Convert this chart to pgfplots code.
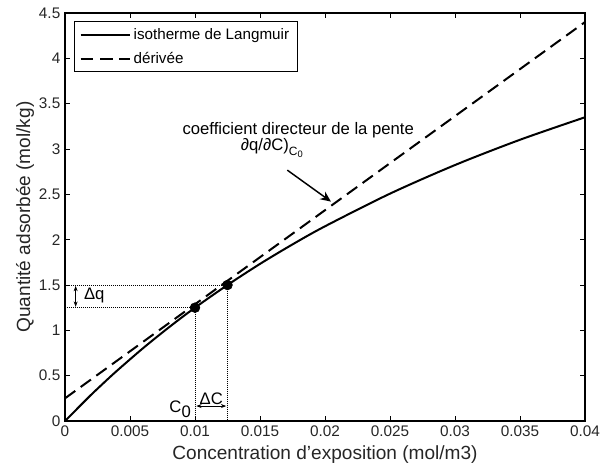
\documentclass[border=0pt]{standalone}
\usepackage{pgfplots}
\pgfplotsset{compat=1.18}
\usepackage{fontspec}
\setmainfont{Liberation Sans}
\usetikzlibrary{arrows.meta}
\begin{document}
\begin{tikzpicture}
\begin{axis}[
  name=main,
  scale only axis,
  width=390pt, height=306pt,
  xmin=0, xmax=0.04, ymin=0, ymax=4.5,
  xtick={0,0.005,...,0.04},
  xticklabels={0,0.005,0.01,0.015,0.02,0.025,0.03,0.035,0.04},
  ytick={0,0.5,...,4.5},
  yticklabels={0,0.5,1,1.5,2,2.5,3,3.5,4,4.5},
  tick align=inside,
  major tick length=4pt,
  tick style={black, line width=0.6pt},
  axis line style={line width=0.8pt},
  /pgf/number format/assume math mode=true,
  ticklabel style={font=\fontsize{11.5}{13}\selectfont, color=black!85},
  xlabel={Concentration d'exposition (mol/m3)},
  ylabel={Quantité adsorbée (mol/kg)},
  label style={font=\fontsize{14.3}{16}\selectfont, color=black!85},
  xlabel style={at={(axis description cs:0.5,-0.0833)}, anchor=center},
  ylabel style={at={(axis description cs:-0.0769,0.5)}, anchor=center},
  scaled x ticks=false,
  legend style={at={(0.0172,0.980)}, anchor=north west, draw=black, line width=0.6pt,
    font=\fontsize{11.4}{13}\selectfont, inner xsep=4pt, inner ysep=3pt, row sep=4pt, legend cell align=left},
  legend image code/.code={\draw[#1] (0cm,0cm) -- (1.3cm,0cm);},
  clip=true,
]
\addplot[black, line width=1.5pt, smooth] coordinates {
(0,0.0) (0.001,0.1444) (0.002,0.2878) (0.003,0.4232) (0.004,0.5546) (0.006,0.8027) (0.008,1.0339)
(0.010,1.2500) (0.0125,1.5000) (0.015,1.7328) (0.0175,1.9477) (0.020,2.1475)
(0.025,2.5076) (0.030,2.8231) (0.035,3.1019) (0.040,3.3501)};
\addlegendentry{isotherme de Langmuir}
\addplot[black, line width=1.5pt, dash pattern=on 9.5pt off 5pt] coordinates {
(0,0.25) (0.04,4.40)};
\addlegendentry{dérivée}
% dotted guides
\addplot[black, densely dotted, line width=0.5pt, forget plot] coordinates {(0,1.25) (0.01,1.25) (0.01,0)};
\addplot[black, densely dotted, line width=0.5pt, forget plot] coordinates {(0,1.5) (0.0125,1.5) (0.0125,0)};
% points
\addplot[only marks, mark=*, mark size=3.7pt, black, forget plot] coordinates {(0.01,1.25) (0.0125,1.5)};
% delta arrows
\addplot[black, line width=0.6pt, {Stealth[length=4pt]}-{Stealth[length=4pt]}, forget plot] coordinates {(0.00082,1.26) (0.00082,1.49)};
\addplot[black, line width=0.6pt, {Stealth[length=4pt]}-{Stealth[length=4pt]}, forget plot] coordinates {(0.0101,0.165) (0.0124,0.165)};
% annotation arrow
\addplot[black, line width=1.1pt, -{Stealth[length=8pt,width=7pt]}, forget plot] coordinates {(0.0171,2.767) (0.02046,2.42)};
\node[anchor=west, font=\fontsize{12.5}{14}\selectfont, inner sep=0pt] at (axis cs:0.00145,1.38) {Δq};
\node[anchor=south, font=\fontsize{12.5}{14}\selectfont, inner sep=0.5pt] at (axis cs:0.01125,0.17) {ΔC};
\node[anchor=east, font=\fontsize{12.5}{14}\selectfont, inner sep=1pt] at (axis cs:0.0098,0.13) {C\raisebox{-0.5ex}{0}};
\node[font=\fontsize{12.5}{14}\selectfont] at (axis cs:0.01794,3.21) {coefficient directeur de la pente};
\node[anchor=west, font=\fontsize{12.5}{14}\selectfont, inner sep=0pt] at (axis cs:0.01351,3.01) {∂q/∂C)\raisebox{-0.55ex}{\fontsize{9}{10}\selectfont C\raisebox{-0.35ex}{\fontsize{7}{8}\selectfont 0}}};
\end{axis}
\pgfresetboundingbox
\path[use as bounding box] (main.south west) ++(-48.75pt,-38.25pt) rectangle ++(450pt,354pt);
\end{tikzpicture}
\end{document}
